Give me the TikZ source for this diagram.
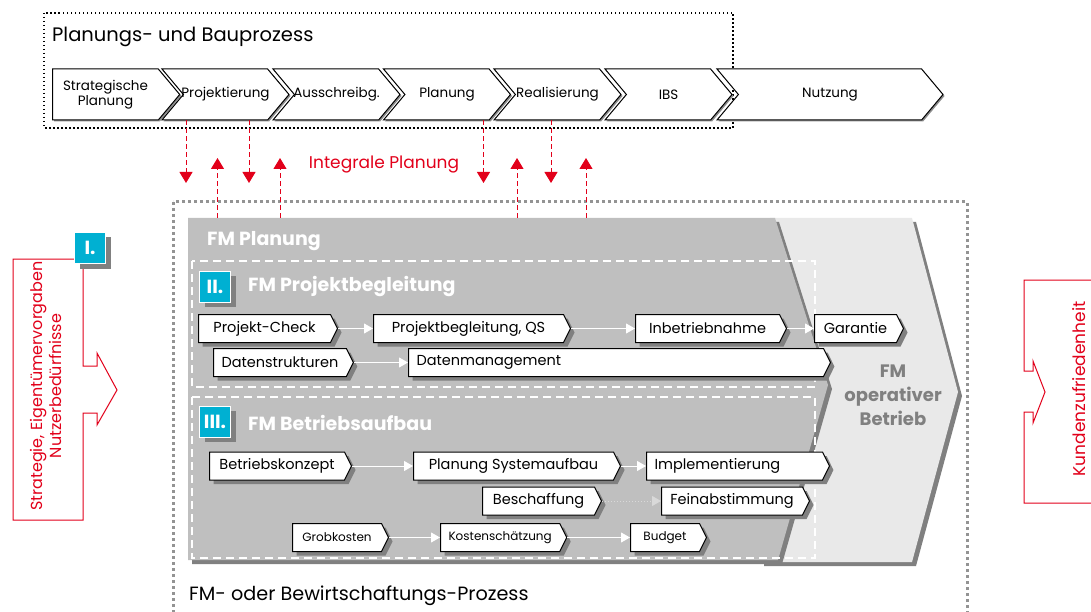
\documentclass[tikz,border=0pt]{standalone}
\usepackage{fontspec}
\setmainfont{Poppins}
\usetikzlibrary{positioning,shapes.symbols,shadows,arrows.meta}

\definecolor{fmred}{RGB}{226,0,26}
\definecolor{fmcyan}{RGB}{0,176,210}
\definecolor{fmdark}{RGB}{191,191,191}
\definecolor{fmlight}{RGB}{233,233,233}
\definecolor{fmshade}{RGB}{128,128,128}

\tikzstyle{phase} = [draw=black, line width=1pt, fill=white, signal, signal to=east,
    signal from=west, signal pointer angle=100, minimum height=51pt, minimum width=127pt,
    inner xsep=-5pt, inner ysep=0pt, align=center, font=\fontsize{13.5}{15.5}\selectfont,
    drop shadow={shadow xshift=1.5pt, shadow yshift=-1.5pt, fill=black!45, opacity=1}]
\tikzstyle{task} = [draw=black, line width=1pt, fill=white, signal, signal to=east,
    signal pointer angle=127, minimum height=28pt, inner xsep=8pt, inner ysep=0pt,
    anchor=west, align=center, font=\fontsize{14.5}{16}\selectfont,
    drop shadow={shadow xshift=4pt, shadow yshift=-4pt, fill=fmshade, opacity=1}]
\tikzstyle{badge} = [draw=white, fill=fmcyan, text=white, minimum size=31pt,
    inner sep=0pt, font=\fontsize{19}{19}\selectfont\bfseries,
    drop shadow={shadow xshift=5pt, shadow yshift=-5pt, fill=fmshade, opacity=1}]
\tikzstyle{heading} = [text=white, anchor=west, inner sep=0pt,
    font=\fontsize{19}{19}\selectfont\bfseries]
\tikzstyle{flow} = [white, line width=1pt, -{Triangle[width=10pt,length=9pt]}]
\tikzstyle{link} = [fmred, line width=1pt, dash pattern=on 5pt off 3pt,
    -{Triangle[width=13pt,length=11pt]}]
\tikzstyle{callout} = [draw=fmred, line width=1pt, fill=white]

\begin{document}
\begin{tikzpicture}[x=1pt, y=-1pt]
    \useasboundingbox (0,0) rectangle (1091,612);

    % Planungs- und Bauprozess
    \draw[line width=1.5pt, dash pattern=on 1.5pt off 2.5pt] (44,13) rectangle (733,128);
    \node[anchor=west, inner sep=0pt, font=\fontsize{19.5}{20}\selectfont] (bau) at (52,37)
        {Planungs- und Bauprozess};
    \node[phase, signal from=nowhere] (strat) at (105.5,94.5) {Strategische\\Planung};
    \node[phase] (proj) at (225.5,94.5) {Projektierung};
    \node[phase] (auss) at (336.5,94.5) {Ausschreibg.};
    \node[phase] (plan) at (447,94.5) {Planung};
    \node[phase] (real) at (557.5,94.5) {Realisierung};
    \node[phase] (ibs) at (668.5,94.5) {IBS};
    \node[phase, minimum width=226pt] (nutz) at (830,94.5) {Nutzung};

    % FM- oder Bewirtschaftungs-Prozess
    \draw[fmshade!85, line width=3pt, dash pattern=on 3pt off 3pt] (173,202) rectangle (967,650);
    \fill[fmshade] (774,222) -- (916,222) -- (962,396) -- (916,566) -- (764,566) -- cycle;
    \fill[fmlight] (770,218) -- (912,218) -- (958,392) -- (912,562) -- (760,562) -- cycle;
    \fill[fmshade] (192,222) -- (779,222) -- (832,389) -- (782,564) -- (192,564) -- cycle;
    \fill[fmdark] (188,218) -- (775,218) -- (828,385) -- (778,560) -- (188,560) -- cycle;
    \coordinate (plantop) at (188,218);
    \node[heading] (fmplan) at (207,241) {FM Planung};
    \node[text=fmshade, align=center, font=\fontsize{18}{24}\selectfont\bfseries] (ops)
        at (893,395) {FM\\operativer\\Betrieb};

    \draw[white, line width=1.2pt, dash pattern=on 8pt off 5pt] (192,261) rectangle (815,387);
    \draw[white, line width=1.2pt, dash pattern=on 8pt off 5pt] (192,397) rectangle (815,558);

    \node[badge] (b2) at (215,286.5) {II.};
    \node[heading] (fmproj) at (248,287) {FM Projektbegleitung};
    \node[badge] (b3) at (215,421.5) {III.};
    \node[heading] (fmbetr) at (248,423) {FM Betriebsaufbau};

    \node[task, minimum width=139pt] (pc) at (198,328.5) {Projekt-Check};
    \node[task, minimum width=197pt] (pbqs) at (373,328.5) {Projektbegleitung, QS};
    \node[task, minimum width=151pt] (inb) at (635,328.5) {Inbetriebnahme};
    \node[task, minimum width=89pt] (gar) at (814,328.5) {Garantie};
    \node[task, minimum width=139pt] (dstr) at (213,362.5) {Datenstrukturen};
    \node[task, text width=399pt, align=left] (dman) at (408,362.5) {Datenmanagement};

    \node[task, minimum width=142pt] (bkon) at (209,466) {Betriebskonzept};
    \node[task, minimum width=207pt] (psys) at (413,466) {Planung Systemaufbau};
    \node[task, text width=160pt, align=left] (impl) at (646,466) {Implementierung};
    \node[task, minimum width=119pt] (besch) at (482,501) {Beschaffung};
    \node[task, minimum width=148pt] (fein) at (661,501) {Feinabstimmung};
    \node[task, minimum width=96pt, font=\fontsize{12}{14}\selectfont] (grob) at (292,537.5) {Grobkosten};
    \node[task, minimum width=123pt, font=\fontsize{12}{14}\selectfont] (kost) at (440,537.5) {Kostenschätzung};
    \node[task, minimum width=76pt, font=\fontsize{12}{14}\selectfont] (budg) at (630,537.5) {Budget};

    \draw[flow] (pc.east) -- (pbqs.west);
    \draw[flow] (pbqs.east) -- (inb.west);
    \draw[flow] (inb.east) -- (gar.west);
    \draw[flow] (dstr.east) -- (dman.west);
    \draw[flow] (bkon.east) -- (psys.west);
    \draw[flow] (psys.east) -- (impl.west);
    \draw[flow, white!85!black, dotted] (besch.east) -- (fein.west);
    \draw[flow] (grob.east) -- (kost.west);
    \draw[flow] (kost.east) -- (budg.west);

    \node[anchor=west, inner sep=0pt, font=\fontsize{19.2}{20}\selectfont] (bew) at (189,596)
        {FM- oder Bewirtschaftungs-Prozess};

    % Integrale Planung
    \node[text=fmred, font=\fontsize{17}{17}\selectfont] (integ) at (384,165) {Integrale Planung};
    \coordinate (d1) at (186,183);
    \coordinate (d2) at (249,183);
    \coordinate (d3) at (483.5,183);
    \coordinate (d4) at (551,183);
    \coordinate (u1) at (217.5,158);
    \coordinate (u2) at (280,158);
    \coordinate (u3) at (517,158);
    \coordinate (u4) at (586,158);
    \draw[link] (proj.south -| d1) -- (d1);
    \draw[link] (proj.south -| d2) -- (d2);
    \draw[link] (plan.south -| d3) -- (d3);
    \draw[link] (real.south -| d4) -- (d4);
    \draw[link] (u1 |- plantop) -- (u1);
    \draw[link] (u2 |- plantop) -- (u2);
    \draw[link] (u3 |- plantop) -- (u3);
    \draw[link] (u4 |- plantop) -- (u4);

    % Vorgaben und Kundenzufriedenheit
    \draw[callout] (13,259) -- (83,259) -- (83,366) -- (97,366) -- (97,353) -- (117,390)
        -- (97,425) -- (97,413) -- (83,413) -- (83,520) -- (13,520) -- cycle;
    \node[text=fmred, rotate=90, align=center, font=\fontsize{16}{19}\selectfont] (vorg)
        at (46,386) {Strategie, Eigentümervorgaben\\Nutzerbedürfnisse};
    \node[badge] (b1) at (90,248) {I.};
    \draw[callout] (1100,280) -- (1024,280) -- (1024,371) -- (1033,371) -- (1033,361)
        -- (1045,392) -- (1033,423) -- (1033,412) -- (1024,412) -- (1024,503) -- (1100,503);
    \node[text=fmred, rotate=90, font=\fontsize{17}{19}\selectfont] (kunde) at (1079,389)
        {Kundenzufriedenheit};
\end{tikzpicture}
\end{document}
